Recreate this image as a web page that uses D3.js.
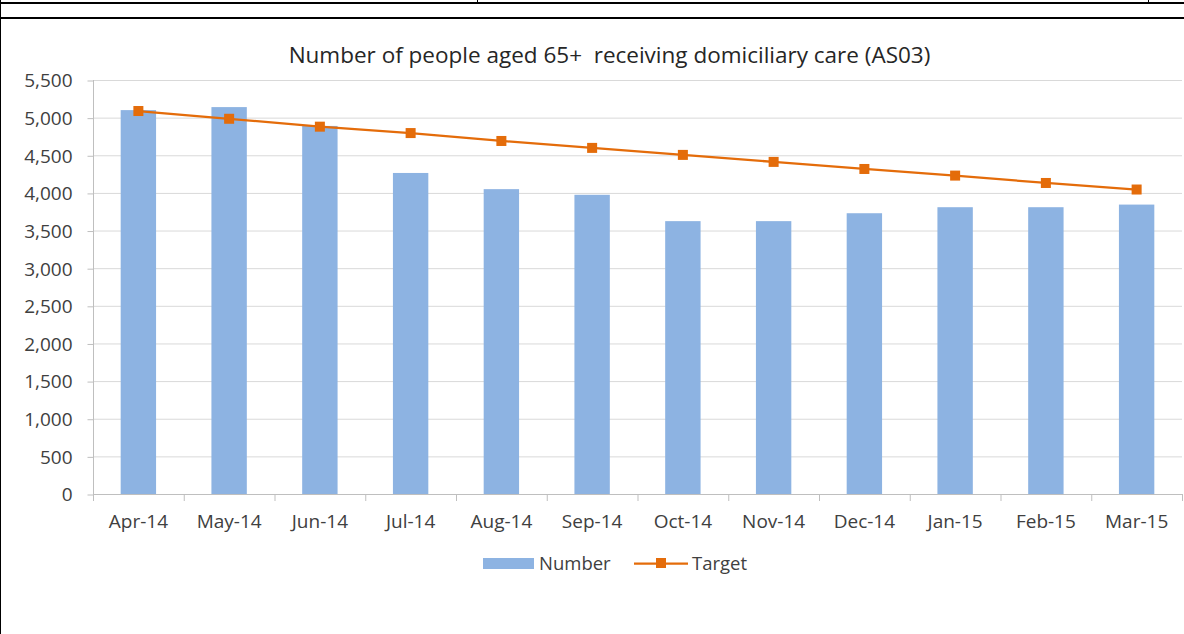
<!DOCTYPE html>
<html><head><meta charset="utf-8">
<script src="https://cdn.jsdelivr.net/npm/d3@7"></script>
<style>body{margin:0;background:#fff;}svg{display:block;font-family:"Open Sans","Liberation Sans",sans-serif;}text{white-space:pre;}</style>
</head><body>
<svg id="c" width="1184" height="634"></svg>
<script>
const categories = ["Apr-14","May-14","Jun-14","Jul-14","Aug-14","Sep-14","Oct-14","Nov-14","Dec-14","Jan-15","Feb-15","Mar-15"];
const numberValues = [5100, 5140, 4890, 4265, 4050, 3975, 3625, 3625, 3730, 3810, 3810, 3845];
const targetValues = [5088, 4985, 4880, 4795, 4690, 4598, 4505, 4412, 4318, 4230, 4132, 4045];
const yTicks = [0,500,1000,1500,2000,2500,3000,3500,4000,4500,5000,5500];
const title = "Number of people aged 65+  receiving domiciliary care (AS03)";

(function(){
const FONT = "'Open Sans','Liberation Sans',sans-serif";
const svg = d3.select("#c");
// sheet borders
svg.append("rect").attr("x",0).attr("y",2).attr("width",1184).attr("height",2).attr("fill","#000");
svg.append("rect").attr("x",0).attr("y",17).attr("width",1184).attr("height",2).attr("fill","#000");
svg.append("rect").attr("x",0).attr("y",0).attr("width",1).attr("height",634).attr("fill","#000");
svg.append("rect").attr("x",477).attr("y",0).attr("width",1).attr("height",3).attr("fill","#000");
svg.append("rect").attr("x",1148).attr("y",0).attr("width",1).attr("height",3).attr("fill","#000");

const pL = 93, pR = 1182, pT = 80, pB = 494;
const x = d3.scaleBand().domain(categories).range([pL, pR]).paddingInner(0.61).paddingOuter(0.305);
const xb = d3.scaleBand().domain(categories).range([pL, pR]);
const y = d3.scaleLinear().domain([0,5500]).range([pB, pT]);

// gridlines
svg.append("g").selectAll("line").data(yTicks.filter(d=>d>0)).join("line")
  .attr("x1",pL).attr("x2",pR).attr("y1",d=>y(d)+0.5).attr("y2",d=>y(d)+0.5)
  .attr("stroke","#d9d9d9").attr("stroke-width",1);

// bars
svg.append("g").selectAll("rect").data(numberValues).join("rect")
  .attr("x",(d,i)=>x(categories[i])).attr("width",x.bandwidth())
  .attr("y",d=>y(d)).attr("height",d=>pB-y(d))
  .attr("fill","#8db3e2");

// y axis
const yAxis = d3.axisLeft(y).tickValues(yTicks).tickSize(6).tickPadding(15).tickFormat(d3.format(","));
const gy = svg.append("g").attr("transform",`translate(${pL+0.5},0)`).call(yAxis)
  .attr("font-family",FONT).attr("font-size",19);
gy.selectAll("line").attr("stroke","#bfbfbf").attr("transform","translate(0,0.5)");
gy.select(".domain").attr("stroke","#bfbfbf").attr("d",`M0,${pT}V${pB}`);
gy.selectAll("text").attr("fill","#404040").attr("dy","0.36em");

// x axis
const xAxis = d3.axisBottom(xb).tickSize(0).tickPadding(20);
const gx = svg.append("g").attr("transform",`translate(0,${pB+0.5})`).call(xAxis)
  .attr("font-family",FONT).attr("font-size",19);
gx.select(".domain").attr("stroke","#bfbfbf").attr("d",`M${pL},0H${pR}`);
gx.selectAll("text").attr("fill","#404040");
svg.append("g").selectAll("line").data(categories.concat(["end"])).join("line")
  .attr("x1",(d,i)=>pL+0.5+i*xb.bandwidth()).attr("x2",(d,i)=>pL+0.5+i*xb.bandwidth())
  .attr("y1",pB).attr("y2",pB+7).attr("stroke","#bfbfbf");

// target line
const line = d3.line().x((d,i)=>xb(categories[i])+xb.bandwidth()/2).y(d=>y(d));
svg.append("path").datum(targetValues).attr("d",line).attr("fill","none").attr("stroke","#e46c0a").attr("stroke-width",2.25);
svg.append("g").selectAll("rect").data(targetValues).join("rect")
  .attr("x",(d,i)=>xb(categories[i])+xb.bandwidth()/2-5).attr("y",d=>y(d)-5)
  .attr("width",10).attr("height",10).attr("fill","#e46c0a");

// title
svg.append("text").attr("x",609.5).attr("y",63).attr("text-anchor","middle")
  .attr("font-size",22.5).attr("fill","#262626").text(title);

// legend
const lg = svg.append("g").attr("font-size",18.5).attr("fill","#404040");
lg.append("rect").attr("x",483).attr("y",558).attr("width",51).attr("height",11).attr("fill","#8db3e2");
lg.append("text").attr("x",539).attr("y",570).text("Number");
lg.append("line").attr("x1",634).attr("x2",688).attr("y1",563.5).attr("y2",563.5).attr("stroke","#e46c0a").attr("stroke-width",2.25);
lg.append("rect").attr("x",656).attr("y",558).attr("width",10).attr("height",10).attr("fill","#e46c0a");
lg.append("text").attr("x",692).attr("y",570).text("Target");
})();
</script>
</body></html>
